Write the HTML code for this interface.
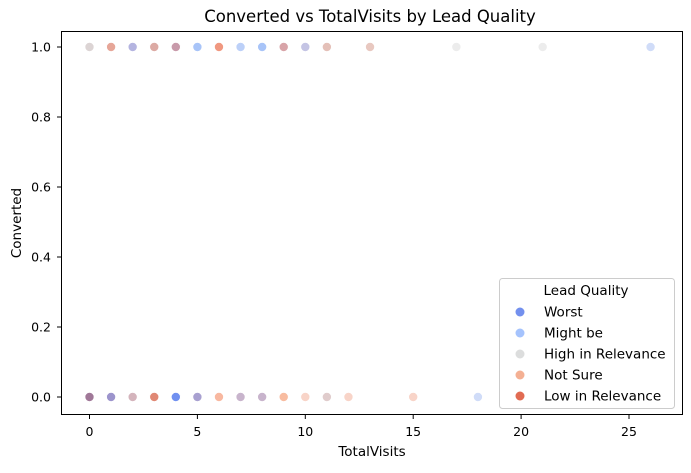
<!DOCTYPE html>
<html><head><meta charset="utf-8"><style>
body{margin:0;background:#fff}
text{font-family:"DejaVu Sans","Liberation Sans",sans-serif}
</style></head><body>
<svg id="chart" width="691" height="468" viewBox="0 0 691 468">
<text x="370" y="22" font-size="16.5" text-anchor="middle">Converted vs TotalVisits by Lead Quality</text>
<rect x="61.5" y="31.5" width="621" height="383" fill="none" stroke="#000" stroke-width="1"/>
<g id="xticks"></g><g id="yticks"></g><g id="points"></g>
<text x="372" y="456" font-size="13.5" text-anchor="middle">TotalVisits</text>
<text transform="translate(21,223) rotate(-90)" font-size="13.5" text-anchor="middle">Converted</text>
<g>
<rect x="499.5" y="278.5" width="175" height="130" rx="3" fill="#fff" fill-opacity="0.8" stroke="#ccc"/>
<text x="586" y="295" font-size="13.5" text-anchor="middle">Lead Quality</text>
<g id="legend-items"></g>
</g>
</svg>
<script>
const xTicks=[0,5,10,15,20,25];
const yTicks=[0.0,0.2,0.4,0.6,0.8,1.0];
const xs=[0,1,2,3,4,5,6,7,8,9,10,11,13,17,21,26, 0,1,2,3,4,5,6,7,8,9,10,11,12,15,18];
const ys=[1,1,1,1,1,1,1,1,1,1,1,1,1,1,1,1, 0,0,0,0,0,0,0,0,0,0,0,0,0,0,0];
const colors=["#dcd4d4","#e6a698","#b4b4e0","#dcaaa4","#c89aaa","#a8c4f8","#f09880","#bcd0f8","#a8c4f8","#d8a4a8","#c4c4e4","#e4c0b8","#e8c8c0","#ececec","#ececec","#d0dcf8",
"#a07898","#9c94cc","#d4b4bc","#e08874","#7090f0","#a8a0d0","#f8b8a0","#c8b4cc","#c8b4cc","#f8bca0","#f8d4c8","#e0cccc","#f8d4c8","#f8d4c8","#d0dcf8"];
const legendLabels=["Worst","Might be","High in Relevance","Not Sure","Low in Relevance"];
const legendColors=["#7390ee","#a5c3fd","#dcdddd","#f4b093","#e16b52"];
const X=v=>89.5+v*21.58, Y=v=>397-v*350;
const NS="http://www.w3.org/2000/svg";
function mk(t,a,p){const e=document.createElementNS(NS,t);for(const k in a)e.setAttribute(k,a[k]);p.appendChild(e);return e;}
const xt=document.getElementById('xticks');
xTicks.forEach(v=>{const g=mk('g',{},xt);


mk('line',{x1:X(v),x2:X(v),y1:415,y2:419,stroke:'#000'},g);
const t=mk('text',{x:X(v),y:436,'font-size':12.5,'text-anchor':'middle'},g);t.textContent=v;});
const yt=document.getElementById('yticks');
yTicks.forEach(v=>{const g=mk('g',{},yt);


mk('line',{x1:57,x2:61.5,y1:Y(v),y2:Y(v),stroke:'#000'},g);
const t=mk('text',{x:51,y:Y(v)+4.5,'font-size':12.5,'text-anchor':'end'},g);t.textContent=v.toFixed(1);});
const pg=document.getElementById('points');
xs.forEach((x,i)=>{const c=mk('circle',{cx:X(x),cy:Y(ys[i]),r:4.5,fill:colors[i],stroke:'#fff','stroke-width':0.6},pg);

});
const lg=document.getElementById('legend-items');
legendLabels.forEach((l,i)=>{const g=mk('g',{},lg);


const y=312+i*21;
mk('circle',{cx:520,cy:y,r:4.5,fill:legendColors[i]},g);
const t=mk('text',{x:544,y:y+4.5,'font-size':13.5},g);t.textContent=l;});
</script>
</body></html>
